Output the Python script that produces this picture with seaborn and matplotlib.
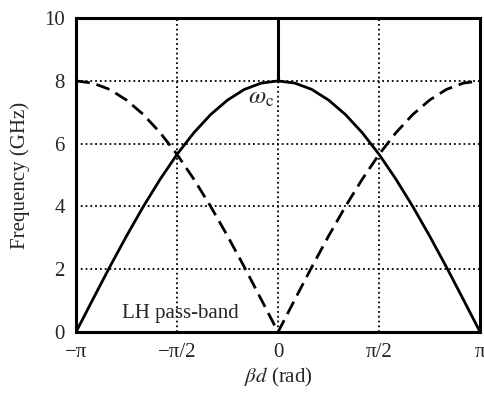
import numpy as np
import pandas as pd
import matplotlib
matplotlib.use('Agg')
import matplotlib.pyplot as plt
import seaborn as sns

# phase axis in units of pi (step pi/12)
beta_pi = [-1.0, -11/12, -10/12, -9/12, -8/12, -7/12, -6/12, -5/12, -4/12, -3/12, -2/12, -1/12,
           0.0, 1/12, 2/12, 3/12, 4/12, 5/12, 6/12, 7/12, 8/12, 9/12, 10/12, 11/12, 1.0]
# frequencies (GHz)
freq_solid = [0.00, 1.04, 2.07, 3.06, 4.00, 4.87, 5.66, 6.35, 6.93, 7.39, 7.73, 7.93,
              8.00, 7.93, 7.73, 7.39, 6.93, 6.35, 5.66, 4.87, 4.00, 3.06, 2.07, 1.04, 0.00]
freq_dashed = [8.00, 7.93, 7.73, 7.39, 6.93, 6.35, 5.66, 4.87, 4.00, 3.06, 2.07, 1.04,
               0.00, 1.04, 2.07, 3.06, 4.00, 4.87, 5.66, 6.35, 6.93, 7.39, 7.73, 7.93, 8.00]
stub_x = [0.0, 0.0]
stub_y = [8.0, 10.0]

tick_labels = ['\u2212\u03c0', '\u2212\u03c0/2', '0', '\u03c0/2', '\u03c0']

sns.set_style('white')
plt.rcParams['font.family'] = ['Liberation Serif', 'DejaVu Serif']
plt.rcParams['mathtext.fontset'] = 'stix'

x = np.array(beta_pi) * np.pi
df = pd.DataFrame({'beta': x, 'solid': freq_solid, 'dashed': freq_dashed})

fig = plt.figure(figsize=(4.84, 4.03), dpi=100)
ax = fig.add_axes([0.157, 0.176, 0.835, 0.779])

sns.lineplot(data=df, x='beta', y='solid', color='black', linewidth=2.0, ax=ax)
sns.lineplot(data=df, x='beta', y='dashed', color='black', linewidth=2.0, ax=ax,
             linestyle=(0, (5, 2.5)))
sns.lineplot(x=stub_x, y=stub_y, color='black', linewidth=2.2, ax=ax,
             estimator=None, sort=False)

ax.set_xlim(-np.pi, np.pi)
ax.set_ylim(0, 10)
ax.set_xticks(np.array([-1, -0.5, 0, 0.5, 1]) * np.pi)
ax.set_xticklabels(tick_labels)
ax.set_yticks([0, 2, 4, 6, 8, 10])
ax.tick_params(length=0, labelsize=15, pad=8)
ax.grid(True, linestyle=':', color='black', linewidth=1.3)

for s in ax.spines.values():
    s.set_color('black')
    s.set_linewidth(2.2)

ax.set_xlabel(r'$\beta d$ (rad)', fontsize=15, labelpad=3)
ax.set_ylabel('Frequency (GHz)', fontsize=15, labelpad=10)

ax.text(-0.27, 7.45, r'$\omega_{\rm c}$', fontsize=18, ha='center', va='center')
ax.text(-1.52, 0.6, 'LH pass-band', fontsize=15, ha='center', va='center')

fig.savefig('out.png', dpi=100)
